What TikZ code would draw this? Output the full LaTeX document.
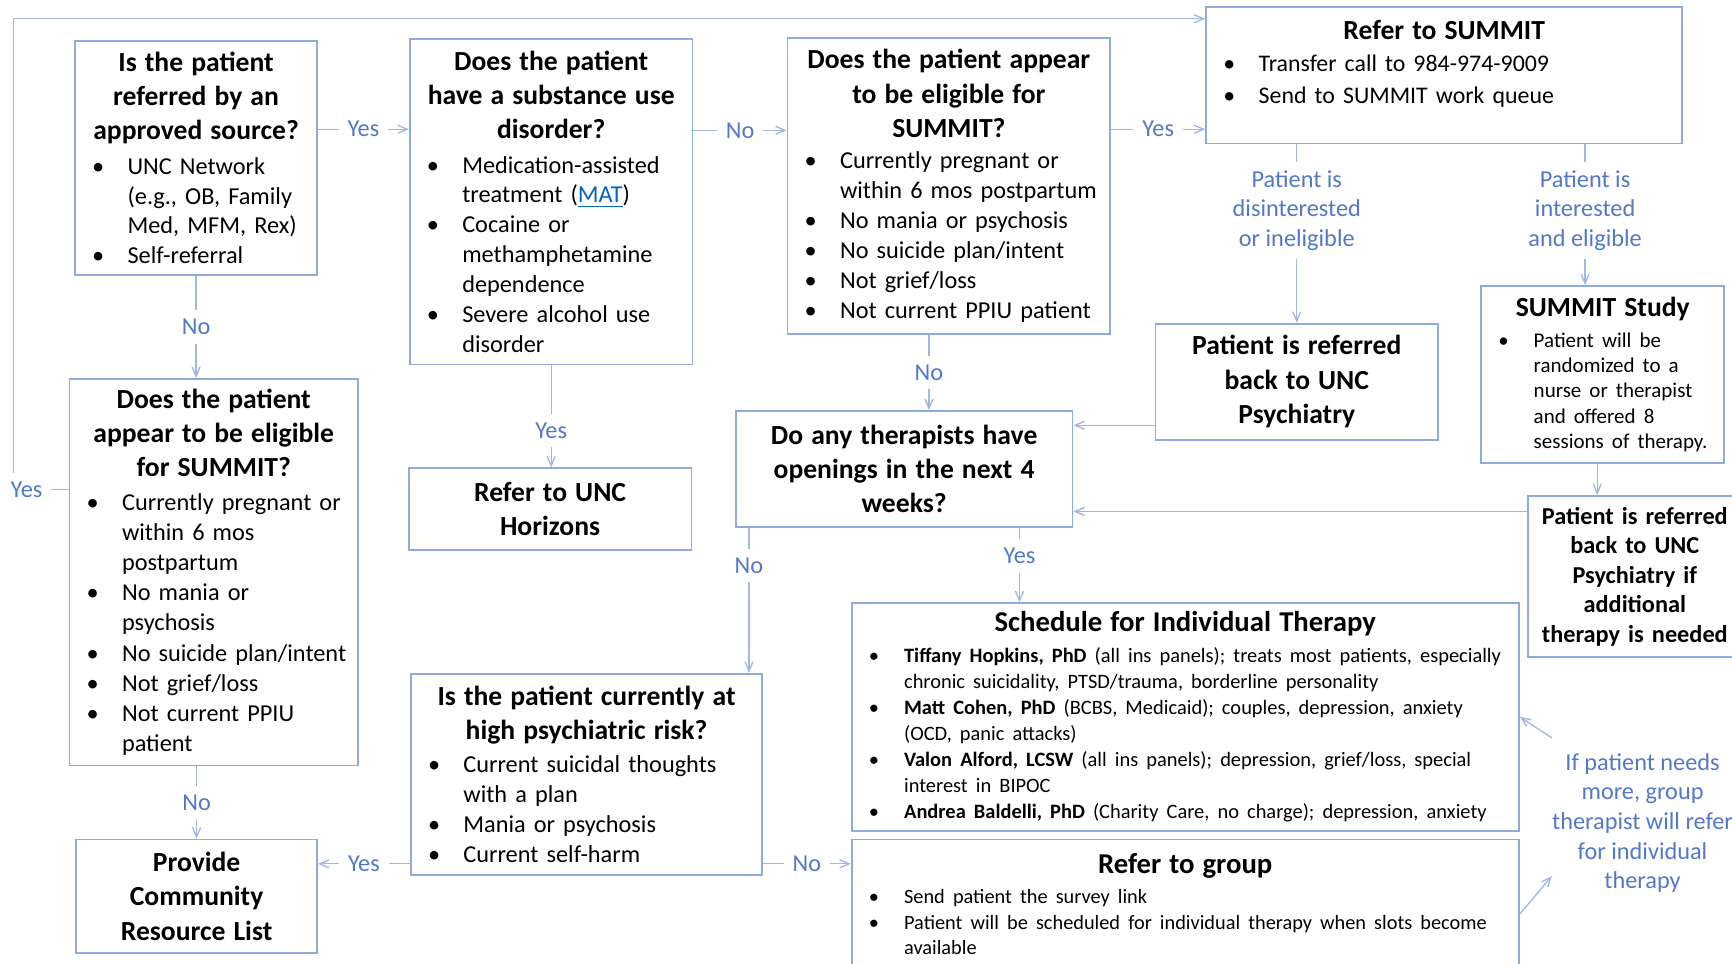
\documentclass[tikz,border=0pt]{standalone}
\usepackage{fontspec}
\setmainfont{Carlito}
\usetikzlibrary{arrows,positioning}

\definecolor{boxcol}{RGB}{143,170,220}
\definecolor{linecol}{RGB}{160,182,228}
\definecolor{lblcol}{RGB}{84,120,200}
\definecolor{linkcol}{RGB}{5,99,193}

\frenchspacing
\newcommand{\qtitle}[2][12.5]{{\centering\bfseries\fontsize{#1}{15.5}\selectfont #2\par}}
\newcommand{\bottomgap}[1]{\par\vspace*{#1}\hrule height 0pt}
\newenvironment{bulletlist}[1][]{#1\setlength{\linewidth}{\hsize}%
  \begin{list}{\textbullet}{%
    \setlength{\leftmargin}{19.75pt}\setlength{\rightmargin}{-12pt}%
    \setlength{\labelwidth}{16pt}\setlength{\labelsep}{0pt}%
    \setlength{\itemsep}{0pt}\setlength{\parsep}{0pt}%
    \setlength{\topsep}{0pt}\setlength{\partopsep}{0pt}%
    \renewcommand{\makelabel}[1]{##1\hfil}}\raggedright}{\end{list}}

\tikzset{
  box/.style={draw=boxcol,line width=0.8pt,inner xsep=4pt,inner ysep=3pt,align=left,
    font=\fontsize{11}{13.5}\selectfont},
  lbl/.style={fill=white,text=lblcol,font=\fontsize{11}{13.25}\selectfont,inner sep=4pt,align=center},
  note/.style={text=lblcol,font=\fontsize{11}{13.4}\selectfont,align=center},
  conn/.style={->,>=angle 45,draw=linecol,line width=0.6pt}
}

\begin{document}
\begin{tikzpicture}[x=0.5pt,y=-0.5pt]
\useasboundingbox (0,0) rectangle (1568,872);
\clip (0,0) rectangle (1568,872);

\node[box,text width=101.5pt,minimum height=106pt] (Approved Source) at (177.5,143) {\qtitle{Is the patient\\referred by an\\approved source?}\vspace{2pt}
\begin{bulletlist}
\item UNC Network\newline (e.g., OB, Family\newline Med, MFM, Rex)
\item Self-referral
\end{bulletlist}};

\node[box,text width=120pt,minimum height=147.5pt] (Substance Use) at (499,182.5) {\qtitle{Does the patient\\have a substance use\\disorder?}\vspace{2pt}
\begin{bulletlist}
\item Medication-assisted\newline treatment (\textcolor{linkcol}{\underline{MAT}})
\item Cocaine or\newline methamphetamine\newline dependence
\item Severe alcohol use\newline disorder
\end{bulletlist}};

\node[box,text width=138pt,minimum height=134pt] (Eligible Top) at (859,168.5) {\qtitle{Does the patient appear\\to be eligible for\\SUMMIT?}\vspace{0.5pt}
\begin{bulletlist}[\fontsize{11}{13.6}\selectfont]
\item Currently pregnant or\newline within 6 mos postpartum
\item No mania or psychosis
\item No suicide plan/intent
\item Not grief/loss
\item Not current PPIU patient
\end{bulletlist}};

\node[box,text width=207.5pt,minimum height=62pt] (Refer Summit) at (1307.5,68) {\qtitle{Refer to SUMMIT}
\begin{bulletlist}[\fontsize{10.8}{14.5}\selectfont]
\item Transfer call to 984-974-9009
\item Send to SUMMIT work queue
\end{bulletlist}\bottomgap{10pt}};

\node[box,text width=120pt,minimum height=52.5pt] (Referred Back) at (1174,345.5) {\qtitle{Patient is referred\\back to UNC\\Psychiatry}};

\node[box,text width=102pt,minimum height=80pt] (Summit Study) at (1451,339) {\qtitle{SUMMIT Study}\vspace{2.5pt}
\begin{bulletlist}[\fontsize{9.5}{11.5}\selectfont]
\item Patient will be\newline randomized to a\newline nurse or therapist\newline and offered 8\newline sessions of therapy.
\end{bulletlist}};

\node[box,text width=89pt,minimum height=73pt,align=center,font=\bfseries\fontsize{11}{13.4}\selectfont] (Referred Back Later) at (1480,522) {Patient is referred\\back to UNC\\Psychiatry if\\additional\\therapy is needed};

\node[box,text width=144.5pt,minimum height=52.5pt] (Openings) at (818.5,424.5) {\qtitle{Do any therapists have\\openings in the next 4\\weeks?}};

\node[box,text width=120pt,minimum height=37pt] (Horizons) at (498,461) {\qtitle{Refer to UNC\\Horizons}};

\node[box,text width=122.5pt,minimum height=175pt] (Eligible Left) at (193.5,518) {\qtitle{Does the patient\\appear to be eligible\\for SUMMIT?}\vspace{1.5pt}
\begin{bulletlist}[\fontsize{11}{13.65}\selectfont]
\item Currently pregnant or\newline within 6 mos\newline postpartum
\item No mania or\newline psychosis
\item No suicide plan/intent
\item Not grief/loss
\item Not current PPIU\newline patient
\end{bulletlist}};

\node[box,text width=101pt,minimum height=51.5pt] (Resource List) at (178,811.5) {\qtitle{Provide\\Community\\Resource List}};

\node[box,text width=151pt,minimum height=91pt] (High Risk) at (531,701) {\qtitle{Is the patient currently at\\high psychiatric risk?}\vspace{1.5pt}
\begin{bulletlist}
\item Current suicidal thoughts\newline with a plan
\item Mania or psychosis
\item Current self-harm
\end{bulletlist}};

\node[box,text width=294pt,minimum height=103pt] (Individual Therapy) at (1073,649) {\qtitle[13]{Schedule for Individual Therapy}\vspace{2.25pt}
\begin{bulletlist}[\fontsize{9.25}{11.75}\selectfont]
\item \textbf{Tiffany Hopkins, PhD} (all ins panels); treats most patients, especially\newline chronic suicidality, PTSD/trauma, borderline personality
\item \textbf{Matt Cohen, PhD} (BCBS, Medicaid); couples, depression, anxiety\newline (OCD, panic attacks)
\item \textbf{Valon Alford, LCSW} (all ins panels); depression, grief/loss, special\newline interest in BIPOC
\item \textbf{Andrea Baldelli, PhD} (Charity Care, no charge); depression, anxiety
\end{bulletlist}};

\node[box,text width=294pt,minimum height=67.5pt] (Refer Group) at (1073,827.5) {\qtitle[13]{Refer to group}\vspace{2.25pt}
\begin{bulletlist}[\fontsize{9.2}{11.5}\selectfont]
\item Send patient the survey link
\item Patient will be scheduled for individual therapy when slots become\newline available
\end{bulletlist}\bottomgap{9pt}};

\node[note] (Group Note) at (1487,745) {If patient needs\\more, group\\therapist will refer\\for individual\\therapy};

\coordinate (Loop Corner) at (12,17);
\coordinate (Source Out) at ([yshift=13pt]Approved Source.east);
\coordinate (Substance Out) at ([yshift=32.25pt]Substance Use.east);
\coordinate (Eligible Out) at ([yshift=25.75pt]Eligible Top.east);
\coordinate (Eligible Down) at ([xshift=-9pt]Eligible Top.south);
\coordinate (Openings Yes) at ([xshift=52.25pt]Openings.south);
\coordinate (Openings No) at ([xshift=-70.25pt]Openings.south);
\coordinate (Study In) at ([xshift=-8pt]Summit Study.north);
\coordinate (Study Out) at ([xshift=-2.5pt]Summit Study.south);
\coordinate (Back Out) at ([yshift=-19.75pt]Referred Back.west);
\coordinate (Later Out) at ([yshift=29.5pt]Referred Back Later.west);
\coordinate (Risk Yes) at ([yshift=-40.5pt]High Risk.west);
\coordinate (Risk No) at ([yshift=-40.5pt]High Risk.east);
\coordinate (Note Top) at (1405,668);
\coordinate (Note Bottom) at (1405,793);

\draw[conn] (Source Out) -- node[lbl]{Yes} (Source Out -| Substance Use.west);
\draw[conn] (Substance Out) -- node[lbl]{No} (Substance Out -| Eligible Top.west);
\draw[conn] (Eligible Out) -- node[lbl]{Yes} (Eligible Out -| Refer Summit.west);
\draw[conn] (Approved Source.south) -- node[lbl]{No} (Approved Source.south |- Eligible Left.north);
\draw[conn] (Resource List.north |- Eligible Left.south) -- node[lbl]{No} (Resource List.north);
\draw[conn] ([yshift=37.5pt]Eligible Left.west) -| node[lbl,pos=0.38]{Yes} (Loop Corner) -- ([yshift=25.5pt]Refer Summit.west);
\draw[conn] (Substance Use.south) -- node[lbl,pos=0.64]{Yes} (Substance Use.south |- Horizons.north);
\draw[conn] (Eligible Down) -- node[lbl]{No} (Eligible Down |- Openings.north);
\draw[conn] (Refer Summit.south -| Referred Back.north) -- node[lbl,pos=0.37]{Patient is\\disinterested\\or ineligible} (Referred Back.north);
\draw[conn] (Study In |- Refer Summit.south) -- node[lbl,pos=0.47]{Patient is\\interested\\and eligible} (Study In);
\draw[conn] (Study Out) -- (Study Out |- Referred Back Later.north);
\draw[conn] (Back Out) -- (Back Out -| Openings.east);
\draw[conn] (Later Out) -- (Later Out -| Openings.east);
\draw[conn] (Openings Yes) -- node[lbl,pos=0.38]{Yes} (Openings Yes |- Individual Therapy.north);
\draw[conn] (Openings No) -- node[lbl,pos=0.26]{No} (Openings No |- High Risk.north);
\draw[conn] (Risk Yes) -- node[lbl]{Yes} (Risk Yes -| Resource List.east);
\draw[conn] (Risk No) -- node[lbl]{No} (Risk No -| Refer Group.west);
\draw[conn] (Note Top) -- (Individual Therapy.east);
\draw[conn] (Refer Group.east) -- (Note Bottom);
\end{tikzpicture}
\end{document}
